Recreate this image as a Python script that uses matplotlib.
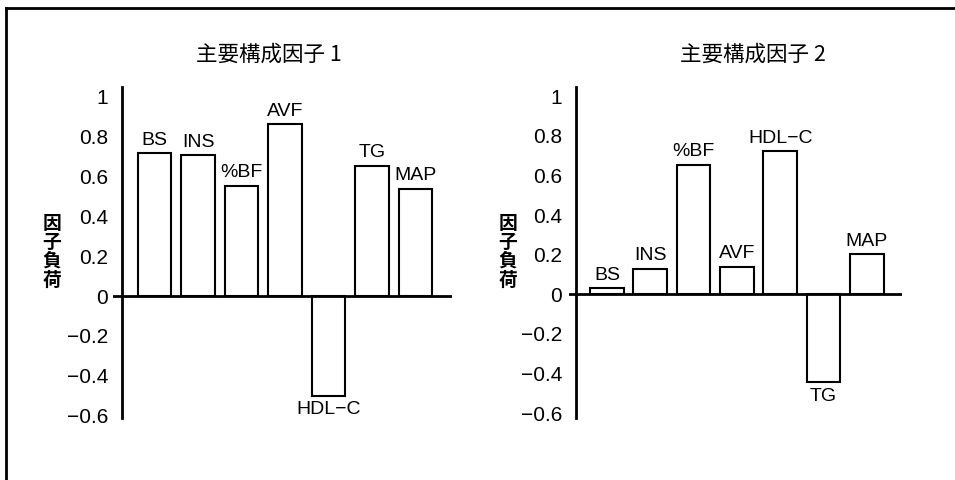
import matplotlib
matplotlib.use("Agg")
import matplotlib.pyplot as plt
from matplotlib.lines import Line2D

plt.rcParams['font.family'] = ['Liberation Sans', 'Noto Sans CJK JP', 'DejaVu Sans']
plt.rcParams['axes.unicode_minus'] = True

# Factor loadings for the two principal components
variables_1 = ["BS", "INS", "%BF", "AVF", "HDL−C", "TG", "MAP"]
loadings_1 = [0.72, 0.71, 0.555, 0.865, -0.50, 0.655, 0.54]

variables_2 = ["BS", "INS", "%BF", "AVF", "HDL−C", "TG", "MAP"]
loadings_2 = [0.03, 0.13, 0.655, 0.14, 0.725, -0.445, 0.205]

titles = ["主要構成因子 1", "主要構成因子 2"]
ylabel = "因子負荷"
yticks = [-0.6, -0.4, -0.2, 0, 0.2, 0.4, 0.6, 0.8, 1]
ytick_labels = ["−0.6", "−0.4", "−0.2", "0", "0.2", "0.4", "0.6", "0.8", "1"]

W, H = 955, 480
fig = plt.figure(figsize=(W / 100, H / 100), dpi=100)


def px_axes(x0, x1, y_top, y_bot):
    return fig.add_axes([x0 / W, 1 - y_bot / H, (x1 - x0) / W, (y_bot - y_top) / H])


panels = [
    dict(names=variables_1, vals=loadings_1, x0=113, x1=452, c0=154.5, step=43.5,
         spine=122, zero=296.0, scale=199.0, title_x=269, ylab_x=52),
    dict(names=variables_2, vals=loadings_2, x0=569, x1=902, c0=607.0, step=43.3,
         spine=576, zero=294.3, scale=198.0, title_x=753, ylab_x=508),
]

for p, title in zip(panels, titles):
    y_top, y_bot = 87, 418
    ax = px_axes(p["x0"], p["x1"], y_top, y_bot)
    xmin = (p["x0"] - p["c0"]) / p["step"]
    xmax = (p["x1"] - p["c0"]) / p["step"]
    ymax = (p["zero"] - y_top) / p["scale"]
    ymin = (p["zero"] - y_bot) / p["scale"]
    ax.set_xlim(xmin, xmax)
    ax.set_ylim(ymin, ymax)

    xs = list(range(len(p["vals"])))
    ax.bar(xs, p["vals"], width=0.78, facecolor="white", edgecolor="black",
           linewidth=1.5, zorder=2)
    ax.axhline(0, color="black", linewidth=2.0, zorder=3)

    for x, v, name in zip(xs, p["vals"], p["names"]):
        if v >= 0:
            ax.annotate(name, (x, v), xytext=(0, 3), textcoords="offset points",
                        ha="center", va="bottom", fontsize=14)
        else:
            ax.annotate(name, (x, v), xytext=(0, -4), textcoords="offset points",
                        ha="center", va="top", fontsize=14)

    for s in ["top", "right", "bottom"]:
        ax.spines[s].set_visible(False)
    ax.spines["left"].set_position(("data", (p["spine"] - p["c0"]) / p["step"]))
    ax.spines["left"].set_linewidth(2.0)
    ax.set_xticks([])
    ax.set_yticks(yticks)
    ax.set_yticklabels(ytick_labels, fontsize=15)
    ax.tick_params(axis="y", length=0, pad=10)
    ax.patch.set_visible(False)

    fig.text(p["title_x"] / W, 1 - 55 / H, title, ha="center", va="center",
             fontsize=15.5, family=["Noto Sans CJK JP"])
    fig.text(p["ylab_x"] / W, 1 - 252 / H, "\n".join(ylabel), ha="center",
             va="center", fontsize=13.5, fontweight="bold", linespacing=1.0,
             family=["Noto Sans CJK JP"])

# Outer frame: top and left edges
fig.add_artist(Line2D([6 / W, 1], [1 - 8 / H, 1 - 8 / H], color="black",
                      linewidth=2.0, transform=fig.transFigure))
fig.add_artist(Line2D([6 / W, 6 / W], [0, 1 - 8 / H], color="black",
                      linewidth=2.0, transform=fig.transFigure))

fig.savefig("out.png", dpi=100, facecolor="white")
